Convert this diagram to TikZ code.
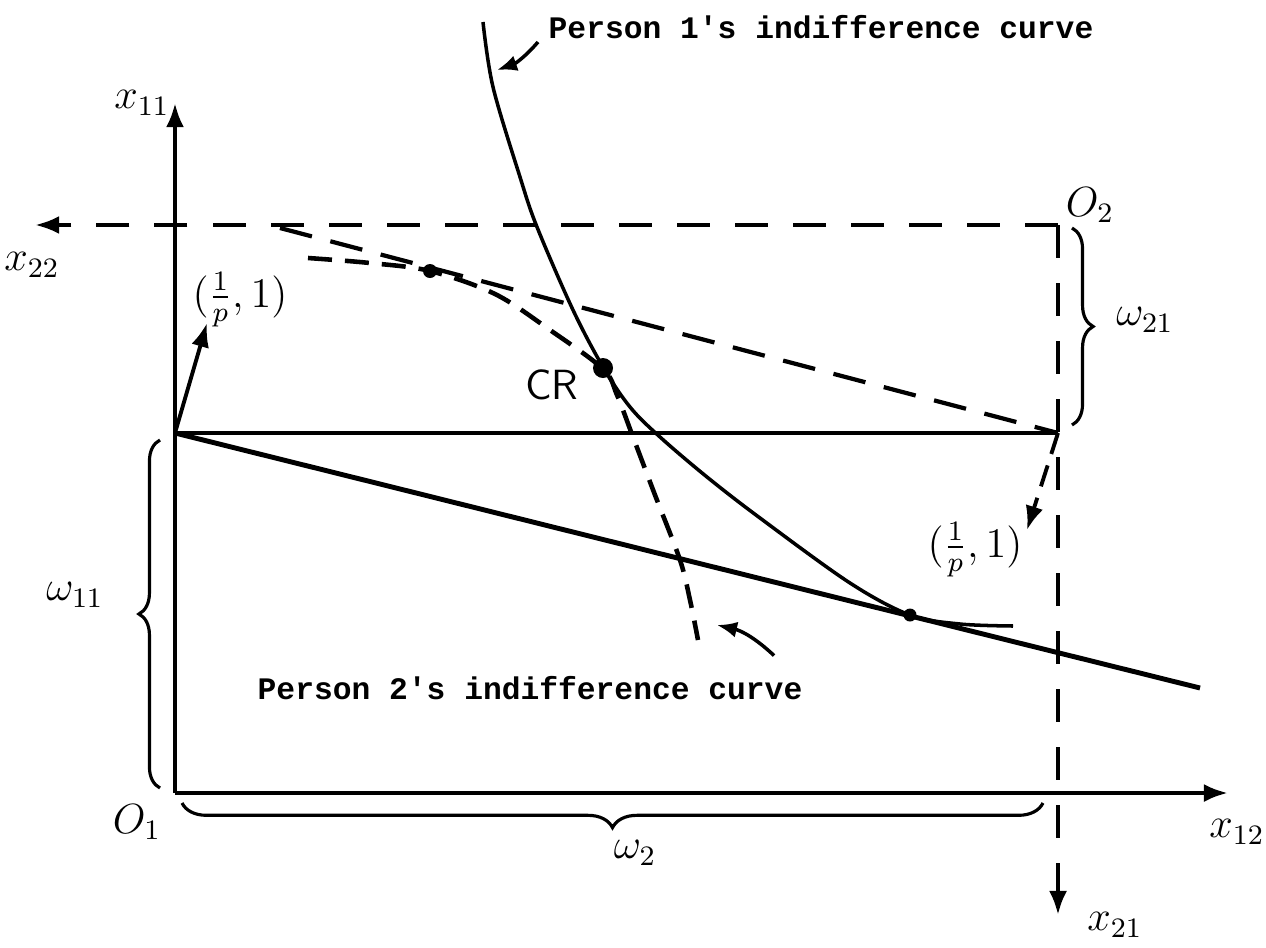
\documentclass[tikz,border=0pt]{standalone}
\usepackage{amsmath}
\usepackage{fontspec}
\newfontfamily\typefont{Liberation Mono}
\usetikzlibrary{arrows.meta,decorations.pathreplacing,positioning}

\begin{document}
\begin{tikzpicture}[x=0.01cm, y=-0.01cm, >={Latex[length=2.4mm,width=1.8mm]}]
  \tikzstyle{axis}=[line width=1.2pt]
  \tikzstyle{boxline}=[line width=1.2pt, dash pattern=on 3.3mm off 2.5mm]
  \tikzstyle{curve}=[line width=1pt]
  \tikzstyle{icdash}=[line width=1.3pt, dash pattern=on 2.4mm off 1.3mm]
  \tikzstyle{lbl}=[font=\large, inner sep=1pt]
  \tikzstyle{note}=[font=\typefont\bfseries\fontsize{8.9}{11}\selectfont, inner sep=0pt]
  \tikzstyle{brc}=[decorate, decoration={brace, amplitude=6pt}, line width=0.9pt]
  \tikzstyle{pt}=[circle, fill, inner sep=0pt]
  \useasboundingbox (0,0) rectangle (1266,948);

  % corners of the box
  \coordinate (O1) at (175,793);
  \coordinate (O2) at (1058,225);
  \coordinate (E) at (175,433);
  \coordinate (Ep) at (1058,433);
  \coordinate (x11end) at (175,103);
  \coordinate (x12end) at (1228,793);
  \coordinate (x22end) at (35,225);
  \coordinate (x21end) at (1058,915);
  \coordinate (budgetend) at (1200,688);
  \coordinate (pricetop) at (280,228);

  % axes
  \draw[axis,->] (O1) -- (x11end);
  \draw[axis,->] (O1) -- (x12end);
  \draw[boxline,->] (O2) -- (x22end);
  \draw[boxline,->] (O2) -- (x21end);

  % endowment and budget lines
  \draw[curve] (E) -- (Ep);
  \draw[line width=1.4pt] (E) -- (budgetend);
  \draw[line width=1.2pt, dash pattern=on 3.3mm off 1.9mm] (pricetop) -- (Ep);

  % price vectors
  \coordinate (v1) at (207,323);
  \coordinate (v2) at (1027,530);
  \draw[line width=1.1pt,->] (E) -- (v1);
  \draw[line width=1.1pt, dash pattern=on 2.2mm off 1.2mm,->] (Ep) -- (v2);
  \node[lbl] (pv1) at (240,300) {$(\frac{1}{p},1)$};
  \node[lbl] (pv2) at (975,550) {$(\frac{1}{p},1)$};

  % indifference curves
  \draw[curve] plot[smooth, tension=0.55] coordinates {(483,22) (493,87) (520,177) (537,227) (573,310) (603,367) (630,407) (660,437) (707,477) (760,518) (850,583) (910,615) (960,624) (1013,626)};
  \draw[icdash] plot[smooth, tension=0.55] coordinates {(308,258) (370,263) (430,271) (495,294) (550,330) (603,369) (617,395) (633,437) (655,495) (680,560) (690,600) (698,640)};

  \node[pt, minimum size=1.4mm] (T2) at (430,271) {};
  \node[pt, minimum size=2mm] (CR) at (603,368) {};
  \node[pt, minimum size=1.3mm] (T1) at (910,615) {};
  \node[lbl, font=\large\sffamily] (lCR) at (552,385) {CR};

  % braces
  \draw[brc] (160,788) -- (160,440);
  \draw[brc] (1072,228) -- (1072,425);
  \draw[brc, decoration={amplitude=7pt}] (1043,803) -- (182,803);

  % axis labels
  \node[lbl] (lx11) at (142,103) {$x_{11}$};
  \node[lbl] (lx22) at (32,265) {$x_{22}$};
  \node[lbl] (lO2) at (1090,205) {$O_2$};
  \node[lbl] (lw21) at (1145,320) {$\omega_{21}$};
  \node[lbl] (lw11) at (75,595) {$\omega_{11}$};
  \node[lbl] (lO1) at (137,822) {$O_1$};
  \node[lbl] (lw2) at (635,853) {$\omega_2$};
  \node[lbl] (lx12) at (1237,832) {$x_{12}$};
  \node[lbl] (lx21) at (1115,925) {$x_{21}$};

  % notes
  \node[note, anchor=west] (n1) at (548,27) {Person 1's indifference curve};
  \node[note, anchor=west] (n2) at (257,688) {Person 2's indifference curve};
  \coordinate (c1) at (497,70);
  \coordinate (c2) at (717,625);
  \draw[line width=1pt, ->, >={Latex[length=2mm,width=1.6mm]}] ([xshift=-1mm,yshift=-1.5mm]n1.west) to[bend left=15] (c1);
  \draw[line width=1pt, ->, >={Latex[length=2mm,width=1.6mm]}] ([xshift=-2.9mm,yshift=2mm]n2.north east) to[bend right=15] (c2);
\end{tikzpicture}
\end{document}
